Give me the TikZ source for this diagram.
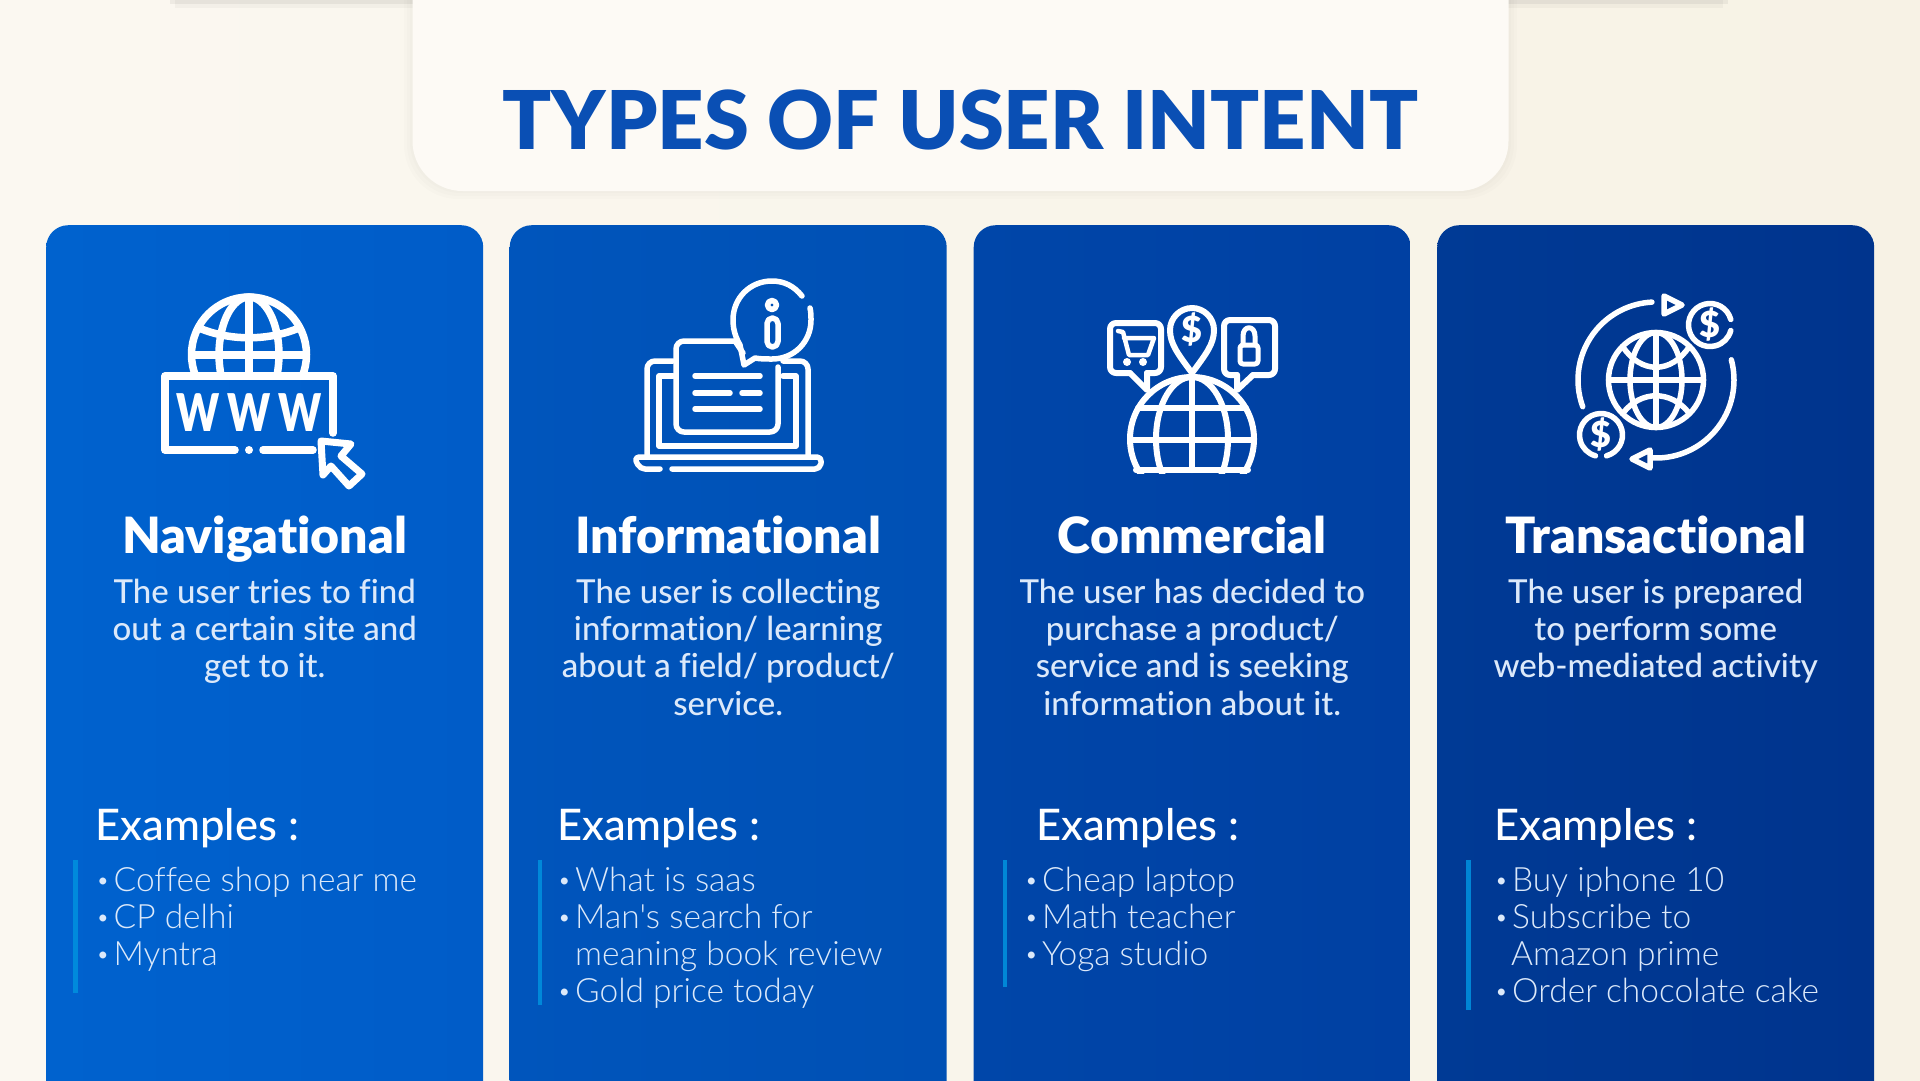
\documentclass[tikz,border=0pt]{standalone}
\usepackage{fontspec}
\defaultfontfeatures{Ligatures=NoCommon}
\setmainfont{Lato}
\newfontfamily\listfont{Lato Light}
\newfontfamily\descfont{Lato Medium}
\newfontfamily\headfont{Lato Black}
\usetikzlibrary{positioning}
\definecolor{pagelight}{HTML}{FBF8F1}
\definecolor{pagedark}{HTML}{F7F2E5}
\definecolor{panelfill}{HTML}{FDFAF5}
\definecolor{titleblue}{HTML}{0A4FB4}
\definecolor{navleft}{HTML}{0062CE}
\definecolor{navright}{HTML}{005CC8}
\definecolor{infoleft}{HTML}{0055BC}
\definecolor{inforight}{HTML}{0050B4}
\definecolor{commleft}{HTML}{0046A9}
\definecolor{commright}{HTML}{0040A2}
\definecolor{transleft}{HTML}{003A95}
\definecolor{transright}{HTML}{00348D}
\definecolor{barblue}{HTML}{0090DE}
\definecolor{listwhite}{HTML}{DCE9FA}
\newcommand{\bul}{\makebox[18pt][l]{\hspace{.5pt}\raisebox{3pt}{\scalebox{.7}{\textbullet}}}}
\tikzset{
  card/.style={rectangle, rounded corners=22pt, minimum width=437pt, minimum height=900pt, anchor=north west, inner sep=0pt},
  cardhead/.style={text=white, font=\fontsize{50}{54}\selectfont\headfont, inner sep=0pt},
  carddesc/.style={text=listwhite, font=\fontsize{33}{37.2}\selectfont\descfont, align=center, inner sep=0pt},
  exhead/.style={text=white, font=\fontsize{43.5}{46}\selectfont\descfont, inner sep=0pt, anchor=base west},
  exlist/.style={text=listwhite, font=\fontsize{33.5}{37}\selectfont\listfont, align=left, inner sep=0pt},
  exbar/.style={fill=barblue, opacity=.88},
  iconline/.style={draw=white, line width=#1, line cap=round, line join=round},
  usd/.style={text=white, font=\fontsize{#1}{#1}\selectfont\headfont, inner sep=0pt}
}
\begin{document}
\begin{tikzpicture}[x=1pt, y=-1pt]
  \useasboundingbox (0,0) rectangle (1920,1080);
  \clip (0,0) rectangle (1920,1080);
  \shade[left color=pagelight, right color=pagedark] (0,0) rectangle (1920,1080);
  \fill[black, opacity=.05] (170,0) rectangle (1728,4);
  \fill[black, opacity=.03] (175,0) rectangle (1723,8);
  \fill[black, opacity=.012, rounded corners=54pt] (404,-80) rectangle (1517,199);
  \fill[black, opacity=.012, rounded corners=52pt] (407,-80) rectangle (1514,196);
  \fill[black, opacity=.012, rounded corners=51pt] (410,-80) rectangle (1511,193);
  \fill[panelfill, rounded corners=50pt] (412.5,-80) rectangle (1508.5,191);
  \node[text=titleblue, font=\fontsize{81}{88}\selectfont\headfont, inner sep=0pt, anchor=base] (title) at (960.5,149) {TYPES OF USER INTENT};

  \node[card, left color=navleft, right color=navright] (nav) at (46,225) {};
  \node[card, left color=infoleft, right color=inforight] (info) at (509.5,225) {};
  \node[card, left color=commleft, right color=commright] (comm) at (973.5,225) {};
  \node[card, left color=transleft, right color=transright] (trans) at (1437,225) {};

  \node[cardhead, below=328pt of nav.north, anchor=base] (navhead) {Navigational};
  \node[cardhead, below=328pt of info.north, anchor=base] (infohead) {Informational};
  \node[cardhead, below=328pt of comm.north, anchor=base] (commhead) {Commercial};
  \node[cardhead, below=328pt of trans.north, anchor=base] (transhead) {Transactional};

  \node[carddesc, below=26pt of navhead.base] (navdesc) {The user tries to find\\out a certain site and\\get to it.};
  \node[carddesc, below=26pt of infohead.base] (infodesc) {The user is collecting\\information/ learning\\about a field/ product/\\service.};
  \node[carddesc, below=26pt of commhead.base] (commdesc) {The user has decided to\\purchase a product/\\service and is seeking\\information about it.};
  \node[carddesc, below=26pt of transhead.base] (transdesc) {The user is prepared\\to perform some\\web-mediated activity};

  \node[exhead] (navex) at (95.5,840) {Examples :};
  \node[exhead] (infoex) at (557,840) {Examples :};
  \node[exhead] (commex) at (1036,840) {Examples :};
  \node[exhead] (transex) at (1494,840) {Examples :};

  \node[exlist, below=27pt of navex.base west, anchor=north west] (navlist) {\bul Coffee shop near me\\\bul CP delhi\\\bul Myntra};
  \node[exlist, below=27pt of infoex.base west, anchor=north west] (infolist) {\bul What is saas\\\bul Man's search for\\\hspace*{18pt}meaning book review\\\bul Gold price today};
  \node[exlist, below=27pt of commex.base west, anchor=north west, xshift=-12pt] (commlist) {\bul Cheap laptop\\\bul Math teacher\\\bul Yoga studio};
  \node[exlist, below=27pt of transex.base west, anchor=north west] (translist) {\bul Buy iphone 10\\\bul Subscribe to\\\hspace*{17pt}Amazon prime\\\bul Order chocolate cake};

  \fill[exbar] (73.3,860) rectangle (77.8,993);
  \fill[exbar] (537.5,860) rectangle (542,1005);
  \fill[exbar] (1002.5,860) rectangle (1007,987);
  \fill[exbar] (1466,860) rectangle (1470.5,1010);

  \begin{scope}[iconline=7.5pt]
    \clip (180,285) rectangle (320,372);
    \draw (249,354.5) circle[radius=57.5];
    \draw (249,354.5) ellipse[x radius=30, y radius=57.5];
    \draw (249,297) -- (249,372);
    \draw (192,355) -- (306,355);
    \draw (199,328) .. controls (230,341) and (268,341) .. (299,328);
  \end{scope}
  \draw[iconline=7.5pt] (333,433) -- (333,376) -- (165,376) -- (165,450) -- (235,450);
  \draw[iconline=7.5pt] (263,450) -- (313,450);
  \fill[white] (249,450) circle[radius=4];
  \draw[iconline=7pt] (321,441) -- (351,444) -- (341,456) -- (362,474) -- (349,486) -- (331,466) -- (323,475) -- cycle;
  \node[text=white, font=\fontsize{52}{52}\selectfont\headfont, inner sep=0pt] (www) at (249,413) {\scalebox{.78}[1]{W\hspace{10pt}W\hspace{10pt}W}};

  \draw[iconline=5.5pt] (802,296) .. controls (794,286) and (784,281) .. (772,281) .. controls (750,281) and (733,298) .. (733,320) .. controls (733,330) and (736,338) .. (740,345) -- (744,365) -- (755,358) .. controls (760,359) and (766,359) .. (772,359) .. controls (794,359) and (811,342) .. (811,320) .. controls (811,316) and (811,312) .. (810,308);
  \draw[iconline=5.5pt] (772,305) circle[radius=4.5];
  \draw[iconline=5.5pt, rounded corners=5.5pt] (767,318) rectangle (778,347);
  \draw[iconline=5.5pt, rounded corners=8pt] (735,341) -- (676,341) -- (676,432) -- (778,432) -- (778,367);
  \draw[iconline=5.5pt] (735,341) -- (743,353);
  \draw[iconline=5.5pt, rounded corners=8pt] (673,361) -- (647,361) -- (647,455);
  \draw[iconline=5.5pt, rounded corners=8pt] (783,361) -- (808,361) -- (808,455);
  \draw[iconline=5.5pt] (673,376) -- (659,376) -- (659,446) -- (796,446) -- (796,376) -- (783,376);
  \draw[iconline=5.5pt, rounded corners=5pt] (660,469) -- (640,469) -- (634,457) -- (822,457) -- (820,469) -- (672,469);
  \draw[iconline=5.5pt] (695,376) -- (760,376);
  \draw[iconline=5.5pt] (695,393) -- (730,393);
  \draw[iconline=5.5pt] (742,393) -- (760,393);
  \draw[iconline=5.5pt] (695,409) -- (760,409);

  \begin{scope}[iconline=6pt]
    \clip (1120,370) rectangle (1265,473);
    \draw (1192,439) circle[radius=62];
    \draw (1192,439) ellipse[x radius=36, y radius=62];
    \draw (1192,378) -- (1192,470);
    \draw (1138,408) -- (1246,408);
    \draw (1130,440) -- (1254,440);
    \draw (1136,470) -- (1248,470);
  \end{scope}
  \draw[iconline=6pt] (1192,373) .. controls (1178,354) and (1170,344) .. (1170,330) .. controls (1170,318) and (1180,308) .. (1192,308) .. controls (1204,308) and (1214,318) .. (1214,330) .. controls (1214,344) and (1206,354) .. (1192,373) -- cycle;
  \node[usd=36] (pinusd) at (1192,330) {\$};
  \draw[iconline=6pt, rounded corners=6pt] (1130,373) -- (1110,373) -- (1110,323) -- (1161,323) -- (1161,373) -- (1147,373);
  \draw[iconline=6pt] (1130,373) -- (1147,390) -- (1147,373);
  \draw[iconline=4.5pt] (1118,331) -- (1123,332) -- (1129,355) -- (1148,355) -- (1154,338) -- (1124,338);
  \fill[white] (1127,362) circle[radius=4];
  \fill[white] (1143,362) circle[radius=4];
  \draw[iconline=6pt, rounded corners=6pt] (1237,375) -- (1224,375) -- (1224,320) -- (1275,320) -- (1275,375) -- (1253,375);
  \draw[iconline=6pt] (1237,375) -- (1237,390) -- (1253,375);
  \draw[iconline=5pt, rounded corners=3pt] (1240,345) rectangle (1258,364);
  \draw[iconline=5pt] (1243,345) -- (1243,336) .. controls (1243,325) and (1255,325) .. (1255,336) -- (1255,345);

  \begin{scope}[shift={(1656,380)}, y=1pt, iconline=5.5pt]
    \draw (0,0) circle[radius=47.5];
    \draw (0,0) ellipse[x radius=26, y radius=47.5];
    \draw (0,47.5) -- (0,-47.5);
    \draw (-47.5,0) -- (47.5,0);
    \draw (-33,33) .. controls (-15,6) and (15,6) .. (33,33);
    \draw (-33,-33) .. controls (-15,-10) and (15,-10) .. (33,-33);
    \draw (200:78) arc[start angle=200, end angle=93, radius=78];
    \draw (15:78) arc[start angle=15, end angle=-92, radius=78];
    \draw (8,84) -- (26,75) -- (8,66) -- cycle;
    \draw (-6,-70) -- (-24,-79) -- (-6,-88) -- cycle;
    \draw (54,55) ++(15:21.5) arc[start angle=15, end angle=345, radius=21.5];
    \draw (-55,-55) ++(285:21.5) arc[start angle=285, end angle=615, radius=21.5];
    \node[usd=36] (topusd) at (54,55) {\$};
    \node[usd=36] (lowusd) at (-55,-55) {\$};
  \end{scope}
\end{tikzpicture}
\end{document}
